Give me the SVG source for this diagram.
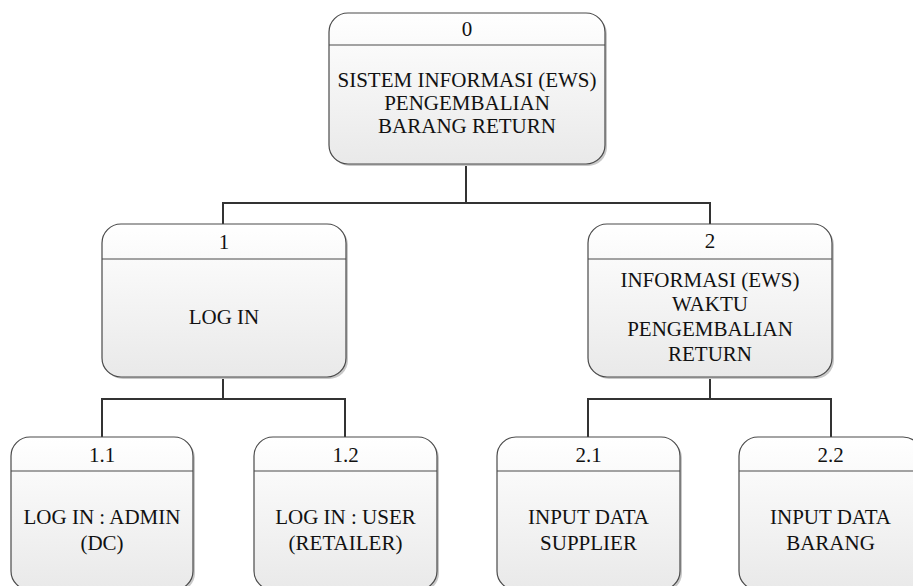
<svg xmlns="http://www.w3.org/2000/svg" width="913" height="586" viewBox="0 0 913 586">
<defs>
<linearGradient id="g" x1="0" y1="0" x2="0" y2="1">
<stop offset="0" stop-color="#ffffff"/>
<stop offset="1" stop-color="#e9e9e9"/>
</linearGradient>
<style>
.box{fill:url(#g);stroke:#4a4a4a;stroke-width:1.2}
.sh{fill:#c8c8c8;stroke:none}
.div{stroke:#4a4a4a;stroke-width:1.2}
.con{fill:none;stroke:#333;stroke-width:2}
text{font-family:"Liberation Serif","Times New Roman",serif;font-size:21px;fill:#111;text-anchor:middle}
</style>
</defs>
<rect width="913" height="586" fill="#ffffff"/>
<g id="connectors">
<polyline class="con" points="466,164 466,203 223,203 223,224"/>
<polyline class="con" points="466,203 710,203 710,224"/>
<polyline class="con" points="223,377 223,399 102,399 102,437"/>
<polyline class="con" points="223,399 345,399 345,437"/>
<polyline class="con" points="710,377 710,399 588,399 588,437"/>
<polyline class="con" points="710,399 831,399 831,437"/>
</g>
<g id="node-0">
<rect class="sh" x="331" y="15" width="276" height="151" rx="19"/>
<rect class="box" x="329" y="13" width="276" height="151" rx="19"/>
<line class="div" x1="329" y1="45" x2="605" y2="45"/>
<text x="467" y="36">0</text>
<text x="467" y="87"><tspan x="467" y="87">SISTEM INFORMASI (EWS)</tspan><tspan x="467" y="110">PENGEMBALIAN</tspan><tspan x="467" y="133">BARANG RETURN</tspan></text>
</g>
<g id="node-1">
<rect class="sh" x="104" y="226" width="244" height="153" rx="19"/>
<rect class="box" x="102" y="224" width="244" height="153" rx="19"/>
<line class="div" x1="102" y1="259" x2="346" y2="259"/>
<text x="224" y="249">1</text>
<text x="224" y="324">LOG IN</text>
</g>
<g id="node-2">
<rect class="sh" x="590" y="226" width="244" height="153" rx="19"/>
<rect class="box" x="588" y="224" width="244" height="153" rx="19"/>
<line class="div" x1="588" y1="259" x2="832" y2="259"/>
<text x="710" y="248">2</text>
<text><tspan x="710" y="287">INFORMASI (EWS)</tspan><tspan x="710" y="311">WAKTU</tspan><tspan x="710" y="336">PENGEMBALIAN</tspan><tspan x="710" y="361">RETURN</tspan></text>
</g>
<g id="node-1-1">
<rect class="sh" x="13" y="439" width="182" height="153" rx="19"/>
<rect class="box" x="11" y="437" width="182" height="153" rx="19"/>
<line class="div" x1="11" y1="471" x2="193" y2="471"/>
<text x="102" y="462">1.1</text>
<text><tspan x="102" y="524">LOG IN : ADMIN</tspan><tspan x="102" y="550">(DC)</tspan></text>
</g>
<g id="node-1-2">
<rect class="sh" x="256" y="439" width="183" height="153" rx="19"/>
<rect class="box" x="254" y="437" width="183" height="153" rx="19"/>
<line class="div" x1="254" y1="471" x2="437" y2="471"/>
<text x="345.5" y="462">1.2</text>
<text><tspan x="345.5" y="524">LOG IN : USER</tspan><tspan x="345.5" y="550">(RETAILER)</tspan></text>
</g>
<g id="node-2-1">
<rect class="sh" x="499" y="439" width="183" height="153" rx="19"/>
<rect class="box" x="497" y="437" width="183" height="153" rx="19"/>
<line class="div" x1="497" y1="471" x2="680" y2="471"/>
<text x="588.5" y="462">2.1</text>
<text><tspan x="588.5" y="524">INPUT DATA</tspan><tspan x="588.5" y="550">SUPPLIER</tspan></text>
</g>
<g id="node-2-2">
<rect class="sh" x="741" y="439" width="183" height="153" rx="19"/>
<rect class="box" x="739" y="437" width="183" height="153" rx="19"/>
<line class="div" x1="739" y1="471" x2="922" y2="471"/>
<text x="830.5" y="462">2.2</text>
<text><tspan x="830.5" y="524">INPUT DATA</tspan><tspan x="830.5" y="550">BARANG</tspan></text>
</g>
</svg>
